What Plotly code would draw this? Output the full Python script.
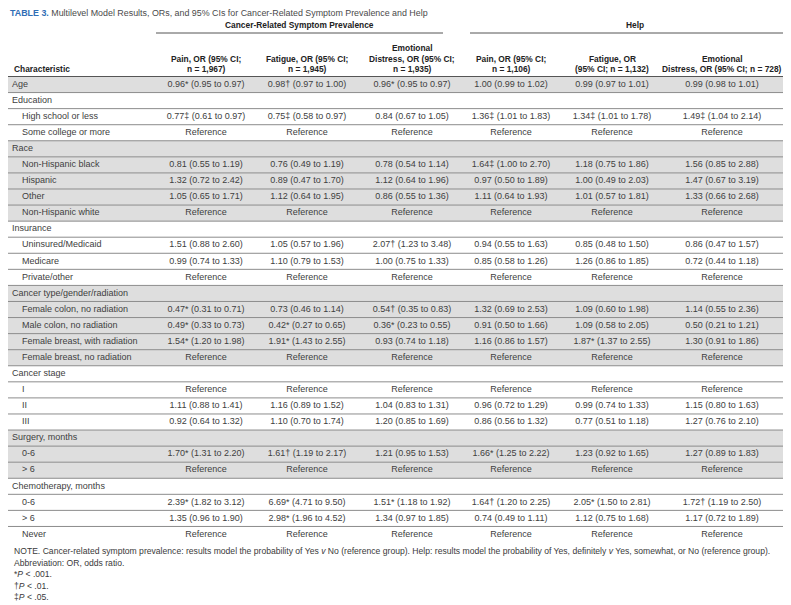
import plotly.graph_objects as go

# ---------------- data ----------------
row_labels = [
    "Age", "Education", "High school or less", "Some college or more",
    "Race", "Non-Hispanic black", "Hispanic", "Other", "Non-Hispanic white",
    "Insurance", "Uninsured/Medicaid", "Medicare", "Private/other",
    "Cancer type/gender/radiation", "Female colon, no radiation", "Male colon, no radiation",
    "Female breast, with radiation", "Female breast, no radiation",
    "Cancer stage", "I", "II", "III",
    "Surgery, months", "0-6", "> 6",
    "Chemotherapy, months", "0-6", "> 6", "Never",
]
row_level = [0, 0, 1, 1, 0, 1, 1, 1, 1, 0, 1, 1, 1, 0, 1, 1, 1, 1, 0, 1, 1, 1, 0, 1, 1, 0, 1, 1, 1]

R = "Reference"
pain_prev = ["0.96* (0.95 to 0.97)", "", "0.77‡ (0.61 to 0.97)", R,
             "", "0.81 (0.55 to 1.19)", "1.32 (0.72 to 2.42)", "1.05 (0.65 to 1.71)", R,
             "", "1.51 (0.88 to 2.60)", "0.99 (0.74 to 1.33)", R,
             "", "0.47* (0.31 to 0.71)", "0.49* (0.33 to 0.73)", "1.54* (1.20 to 1.98)", R,
             "", R, "1.11 (0.88 to 1.41)", "0.92 (0.64 to 1.32)",
             "", "1.70* (1.31 to 2.20)", R,
             "", "2.39* (1.82 to 3.12)", "1.35 (0.96 to 1.90)", R]
fatigue_prev = ["0.98† (0.97 to 1.00)", "", "0.75‡ (0.58 to 0.97)", R,
                "", "0.76 (0.49 to 1.19)", "0.89 (0.47 to 1.70)", "1.12 (0.64 to 1.95)", R,
                "", "1.05 (0.57 to 1.96)", "1.10 (0.79 to 1.53)", R,
                "", "0.73 (0.46 to 1.14)", "0.42* (0.27 to 0.65)", "1.91* (1.43 to 2.55)", R,
                "", R, "1.16 (0.89 to 1.52)", "1.10 (0.70 to 1.74)",
                "", "1.61† (1.19 to 2.17)", R,
                "", "6.69* (4.71 to 9.50)", "2.98* (1.96 to 4.52)", R]
emo_prev = ["0.96* (0.95 to 0.97)", "", "0.84 (0.67 to 1.05)", R,
            "", "0.78 (0.54 to 1.14)", "1.12 (0.64 to 1.96)", "0.86 (0.55 to 1.36)", R,
            "", "2.07† (1.23 to 3.48)", "1.00 (0.75 to 1.33)", R,
            "", "0.54† (0.35 to 0.83)", "0.36* (0.23 to 0.55)", "0.93 (0.74 to 1.18)", R,
            "", R, "1.04 (0.83 to 1.31)", "1.20 (0.85 to 1.69)",
            "", "1.21 (0.95 to 1.53)", R,
            "", "1.51* (1.18 to 1.92)", "1.34 (0.97 to 1.85)", R]
pain_help = ["1.00 (0.99 to 1.02)", "", "1.36‡ (1.01 to 1.83)", R,
             "", "1.64‡ (1.00 to 2.70)", "0.97 (0.50 to 1.89)", "1.11 (0.64 to 1.93)", R,
             "", "0.94 (0.55 to 1.63)", "0.85 (0.58 to 1.26)", R,
             "", "1.32 (0.69 to 2.53)", "0.91 (0.50 to 1.66)", "1.16 (0.86 to 1.57)", R,
             "", R, "0.96 (0.72 to 1.29)", "0.86 (0.56 to 1.32)",
             "", "1.66* (1.25 to 2.22)", R,
             "", "1.64† (1.20 to 2.25)", "0.74 (0.49 to 1.11)", R]
fatigue_help = ["0.99 (0.97 to 1.01)", "", "1.34‡ (1.01 to 1.78)", R,
                "", "1.18 (0.75 to 1.86)", "1.00 (0.49 to 2.03)", "1.01 (0.57 to 1.81)", R,
                "", "0.85 (0.48 to 1.50)", "1.26 (0.86 to 1.85)", R,
                "", "1.09 (0.60 to 1.98)", "1.09 (0.58 to 2.05)", "1.87* (1.37 to 2.55)", R,
                "", R, "0.99 (0.74 to 1.33)", "0.77 (0.51 to 1.18)",
                "", "1.23 (0.92 to 1.65)", R,
                "", "2.05* (1.50 to 2.81)", "1.12 (0.75 to 1.68)", R]
emo_help = ["0.99 (0.98 to 1.01)", "", "1.49‡ (1.04 to 2.14)", R,
            "", "1.56 (0.85 to 2.88)", "1.47 (0.67 to 3.19)", "1.33 (0.66 to 2.68)", R,
            "", "0.86 (0.47 to 1.57)", "0.72 (0.44 to 1.18)", R,
            "", "1.14 (0.55 to 2.36)", "0.50 (0.21 to 1.21)", "1.30 (0.91 to 1.86)", R,
            "", R, "1.15 (0.80 to 1.63)", "1.27 (0.76 to 2.10)",
            "", "1.27 (0.89 to 1.83)", R,
            "", "1.72† (1.19 to 2.50)", "1.17 (0.72 to 1.89)", R]

group_headers = ["Cancer-Related Symptom Prevalence", "Help"]
col_headers = [
    ["", "Pain, OR (95% CI;", "n = 1,967)"],
    ["", "Fatigue, OR (95% CI;", "n = 1,945)"],
    ["Emotional", "Distress, OR (95% CI;", "n = 1,935)"],
    ["", "Pain, OR (95% CI;", "n = 1,106)"],
    ["", "Fatigue, OR", "(95% CI; n = 1,132)"],
    ["", "Emotional", "Distress, OR (95% CI; n = 728)"],
]
first_header = "Characteristic"
title_label = "TABLE 3."
title_text = "Multilevel Model Results, ORs, and 95% CIs for Cancer-Related Symptom Prevalence and Help"
notes = [
    "NOTE. Cancer-related symptom prevalence: results model the probability of Yes <i>v</i> No (reference group). "
    "Help: results model the probability of Yes, definitely <i>v</i> Yes, somewhat, or No (reference group).",
    "Abbreviation: OR, odds ratio.",
    "*<i>P</i> &lt; .001.",
    "†<i>P</i> &lt; .01.",
    "‡<i>P</i> &lt; .05.",
]

# ---------------- layout geometry ----------------
W, H = 791, 605
col_x = [198, 299, 404, 503, 604, 714]
group_spans = [(148, 435), (462, 791)]
row_top0 = 68.5
row_h = 16.07
body_font = "Liberation Sans, Arial, sans-serif"
head_font = "Liberation Sans, Arial, sans-serif"
txt_col = "#404040"
head_col = "#222222"
body_size = 9
head_size = 8.4

columns = [pain_prev, fatigue_prev, emo_prev, pain_help, fatigue_help, emo_help]
n = len(row_labels)
row_y = [row_top0 + (i + 0.5) * row_h for i in range(n)]

fig = go.Figure()
shapes = []

# shading per top-level block
block = -1
for i in range(n):
    if row_level[i] == 0:
        block += 1
    if block % 2 == 0:
        shapes.append(dict(type="rect", xref="x", yref="y", x0=0, x1=W,
                           y0=row_top0 + i * row_h, y1=row_top0 + (i + 1) * row_h,
                           fillcolor="#dedede", line_width=0, layer="below"))
# row separators
for i in range(1, n):
    y = row_top0 + i * row_h
    shapes.append(dict(type="line", xref="x", yref="y", x0=0, x1=W, y0=y, y1=y,
                       line=dict(color="#8c8c8c", width=1)))
shapes.append(dict(type="line", xref="x", yref="y", x0=0, x1=W, y0=row_top0, y1=row_top0,
                   line=dict(color="#555555", width=1.2)))
# group underlines
for (a, b) in group_spans:
    shapes.append(dict(type="line", xref="x", yref="y", x0=a, x1=b, y0=25, y1=25,
                       line=dict(color="#555555", width=1)))

# row labels
fig.add_trace(go.Scatter(
    x=[4 if lv == 0 else 14 for lv in row_level], y=row_y, text=row_labels,
    mode="text", textposition="middle right", hoverinfo="skip",
    textfont=dict(family=body_font, size=body_size, color=txt_col), showlegend=False))

# data columns
for cx, vals in zip(col_x, columns):
    fig.add_trace(go.Scatter(
        x=[cx] * n, y=row_y, text=vals, mode="text", textposition="middle center",
        hoverinfo="skip", textfont=dict(family=body_font, size=body_size, color=txt_col),
        showlegend=False))

annotations = []
# title
annotations.append(dict(
    x=0, y=5, xref="x", yref="y", xanchor="left", yanchor="middle", showarrow=False,
    text=f"<b><span style='color:#2f6db5'>{title_label}</span></b> {title_text}",
    font=dict(family="Liberation Sans, Arial, sans-serif", size=8.9, color="#4a4a4a")))
# group headers
for (a, b), g in zip(group_spans, group_headers):
    annotations.append(dict(x=(a + b) / 2, y=17, xref="x", yref="y", showarrow=False,
                            xanchor="center", yanchor="middle", text=f"<b>{g}</b>",
                            font=dict(family=head_font, size=head_size, color=head_col)))
# column headers
head_ys = [40, 50.5, 61]
for cx, lines in zip(col_x, col_headers):
    for yy, t in zip(head_ys, lines):
        if t:
            annotations.append(dict(x=cx, y=yy, xref="x", yref="y", showarrow=False,
                                    xanchor="center", yanchor="middle", text=f"<b>{t}</b>",
                                    font=dict(family=head_font, size=head_size, color=head_col)))
annotations.append(dict(x=4, y=61, xref="x", yref="y", showarrow=False, xanchor="left",
                        yanchor="middle", text=f"<b>{first_header}</b>",
                        font=dict(family=head_font, size=head_size, color=head_col)))
# notes
for k, t in enumerate(notes):
    annotations.append(dict(x=4, y=543 + k * 11.5, xref="x", yref="y", showarrow=False,
                            xanchor="left", yanchor="middle", text=t,
                            font=dict(family="Liberation Sans, Arial, sans-serif", size=8.6,
                                      color="#3a3a3a")))

fig.update_layout(
    width=W, height=H, margin=dict(l=0, r=0, t=0, b=0),
    paper_bgcolor="white", plot_bgcolor="white",
    xaxis=dict(range=[0, W], visible=False, fixedrange=True),
    yaxis=dict(range=[H, 0], visible=False, fixedrange=True),
    shapes=shapes, annotations=annotations,
)
fig.write_html("out.html")
